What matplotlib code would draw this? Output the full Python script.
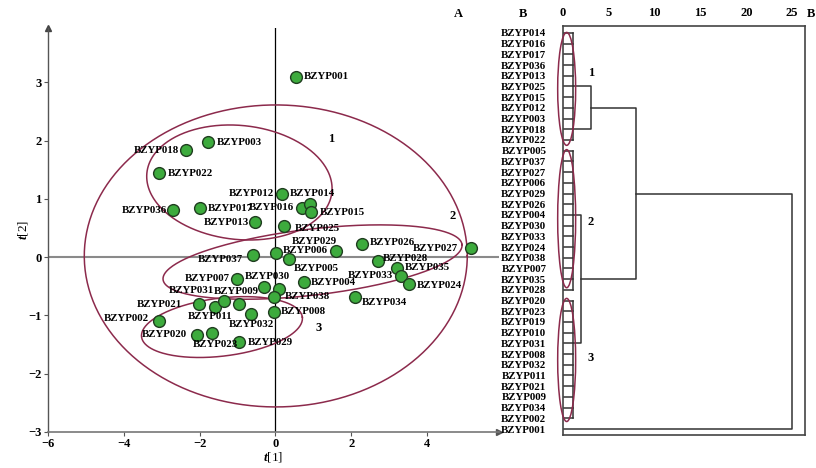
import numpy as np
import matplotlib
matplotlib.use("Agg")
import matplotlib.pyplot as plt
from matplotlib.patches import Ellipse

plt.rcParams['font.family'] = ['Liberation Serif', 'DejaVu Serif']
plt.rcParams['font.weight'] = 'bold'
plt.rcParams['mathtext.fontset'] = 'custom'
plt.rcParams['mathtext.it'] = 'Liberation Serif:italic:bold'
plt.rcParams['mathtext.rm'] = 'Liberation Serif:bold'
plt.rcParams['axes.unicode_minus'] = True

# ---- score plot data (t[1], t[2]) ----
names = ['BZYP001', 'BZYP003', 'BZYP018', 'BZYP022', 'BZYP036', 'BZYP017',
         'BZYP016', 'BZYP014', 'BZYP015', 'BZYP012', 'BZYP013', 'BZYP025',
         'BZYP029', 'BZYP006', 'BZYP005', 'BZYP037', 'BZYP026', 'BZYP027',
         'BZYP028', 'BZYP035', 'BZYP033', 'BZYP024', 'BZYP004', 'BZYP034',
         'BZYP007', 'BZYP030', '', 'BZYP038', 'BZYP021', 'BZYP011',
         'BZYP031', 'BZYP009', 'BZYP032', 'BZYP008', 'BZYP002', 'BZYP020',
         'BZYP023', 'BZYP029']
t1 = [0.55, -1.77, -2.35, -3.06, -2.69, -1.98,
      0.69, 0.90, 0.95, 0.18, -0.53, 0.24,
      0.01, 1.59, 0.35, -0.59, 2.29, 5.17,
      2.71, 3.20, 3.32, 3.53, 0.76, 2.10,
      -1.00, -0.31, 0.09, -0.03, -2.01, -1.59,
      -1.36, -0.97, -0.64, -0.04, -3.06, -2.06,
      -1.67, -0.95]
t2 = [3.09, 1.97, 1.83, 1.44, 0.80, 0.84,
      0.85, 0.91, 0.77, 1.09, 0.60, 0.53,
      0.07, 0.10, -0.03, 0.03, 0.23, 0.15,
      -0.07, -0.18, -0.32, -0.46, -0.42, -0.68,
      -0.37, -0.52, -0.55, -0.68, -0.81, -0.85,
      -0.76, -0.81, -0.97, -0.94, -1.10, -1.33,
      -1.30, -1.46]

# label placement (pixel offset x, y, alignment) - layout only
label_pos = [(8, 0, 'left'), (8, 0, 'left'), (-7, 0, 'right'), (8, 0, 'left'),
             (-6, 0, 'right'), (7, 0, 'left'), (-7, 0, 'right'), (-20, 11, 'left'),
             (8, 0, 'left'), (-8, 0, 'right'), (-6, 0, 'right'), (10, -2, 'left'),
             (16, 12, 'left'), (-8, 1, 'right'), (5, -10, 'left'), (-10, -4, 'right'),
             (8, 1, 'left'), (-13, 0, 'right'), (5, 3, 'left'), (8, 0, 'left'),
             (-8, 0, 'right'), (8, -2, 'left'), (7, -1, 'left'), (7, -6, 'left'),
             (-8, 0, 'right'), (-19, 11, 'left'), (0, 0, 'left'), (11, 0, 'left'),
             (-17, 0, 'right'), (-5, -10, 'center'), (-10, 11, 'right'), (-2, 13, 'center'),
             (0, -11, 'center'), (7, 0, 'left'), (-11, 3, 'right'), (-10, 0, 'right'),
             (-19, -12, 'left'), (8, 0, 'left')]

# ---- dendrogram data ----
leaves = ['BZYP014', 'BZYP016', 'BZYP017', 'BZYP036', 'BZYP013', 'BZYP025',
          'BZYP015', 'BZYP012', 'BZYP003', 'BZYP018', 'BZYP022', 'BZYP005',
          'BZYP037', 'BZYP027', 'BZYP006', 'BZYP029', 'BZYP026', 'BZYP004',
          'BZYP030', 'BZYP033', 'BZYP024', 'BZYP038', 'BZYP007', 'BZYP035',
          'BZYP028', 'BZYP020', 'BZYP023', 'BZYP019', 'BZYP010', 'BZYP031',
          'BZYP008', 'BZYP032', 'BZYP011', 'BZYP021', 'BZYP009', 'BZYP034',
          'BZYP002', 'BZYP001']
cluster_sizes = [11, 14, 12]
first_merge = 1.06
# (leaf a, leaf b, height a, height b, merge height)
links = [(5, 9, 1.06, 1.06, 3.0),
         (17, 29, 1.06, 1.06, 2.0),
         (7, 23, 3.0, 2.0, 8.0),
         (15, 37, 8.0, 0.0, 25.0)]

red = '#8c2a4c'
green = '#3dab3d'
fs = 7.8

fig = plt.figure(figsize=(8.16, 4.68), dpi=100)

# ================= score plot =================
xmin, xmax = -6, 5.9
ymin, ymax = -3, 3.93
ax = fig.add_axes([48 / 816, 1 - 432 / 468, 451 / 816, 404 / 468])
ax.set_xlim(xmin, xmax)
ax.set_ylim(ymin, ymax)
sx = 451 / (xmax - xmin)
sy = 404 / (ymax - ymin)

for s in ['top', 'right']:
    ax.spines[s].set_visible(False)
ax.spines['left'].set_color('#555555')
ax.spines['bottom'].set_color('#777777')
ax.spines['left'].set_linewidth(1.0)
ax.spines['bottom'].set_linewidth(1.2)
ax.plot(0, 1, '^', color='#444444', ms=4, transform=ax.transAxes, clip_on=False)
ax.plot(1, 0, '>', color='#555555', ms=4, transform=ax.transAxes, clip_on=False)

ax.axhline(0, color='#8a8a8a', lw=1.5, zorder=1)
ax.axvline(0, color='black', lw=0.9, zorder=1)

ax.set_xticks([-6, -4, -2, 0, 2, 4])
ax.set_yticks([-3, -2, -1, 0, 1, 2, 3])
ax.tick_params(direction='out', length=3, width=0.8, color='#555555',
               labelsize=9, pad=1.5)
ax.set_xlabel(r'$t$[1]', fontsize=9.5, labelpad=0)
ax.set_ylabel(r'$t$[2]', fontsize=9.5, labelpad=-1.5)


def ring(cx, cy, a, b, ang):
    t = np.linspace(0, 2 * np.pi, 300)
    u = a * np.cos(t)
    v = b * np.sin(t)
    th = np.radians(ang)
    x = cx + (u * np.cos(th) - v * np.sin(th)) / sx
    y = cy + (u * np.sin(th) + v * np.cos(th)) / sy
    ax.plot(x, y, color=red, lw=1.1, zorder=2)


ring(0.01, 0.02, 191.5, 151, 0)
ring(-0.95, 1.28, 93, 57, -6)
ring(0.98, -0.085, 150.5, 33, 6.7)
ring(-1.41, -1.20, 81, 29, 7)

ax.scatter(t1, t2, s=72, color=green, edgecolor='#1f3d1f', linewidth=1.0, zorder=4)
for n, x, y, (dx, dy, ha) in zip(names, t1, t2, label_pos):
    if n:
        ax.annotate(n, (x, y), xytext=(dx, dy), textcoords='offset pixels',
                    ha=ha, va='center', fontsize=fs, zorder=5)

ax.text(1.48, 2.02, '1', fontsize=9, ha='center', va='center')
ax.text(4.67, 0.70, '2', fontsize=9, ha='center', va='center')
ax.text(1.13, -1.21, '3', fontsize=9, ha='center', va='center')
fig.text(458 / 816, 1 - 14 / 468, 'A', fontsize=9, ha='center', va='center')

# ================= dendrogram =================
dx0, dx1 = 0, 26.4
bx = fig.add_axes([563 / 816, 1 - 435 / 468, 242 / 816, 409 / 468])
bx.set_xlim(dx0, dx1)
bx.set_ylim(37.56, -0.65)
for s in bx.spines.values():
    s.set_color('#444444')
    s.set_linewidth(1.2)
bx.xaxis.tick_top()
bx.set_xticks([0, 5, 10, 15, 20, 25])
bx.tick_params(axis='x', length=0, labelsize=9, pad=5)
bx.set_yticks(range(len(leaves)))
bx.set_yticklabels(leaves)
bx.tick_params(axis='y', length=0, labelsize=fs, pad=12)

lc = '#333333'
start = 0
for size in cluster_sizes:
    idx = np.arange(start, start + size)
    for i in idx:
        bx.plot([0, first_merge], [i, i], color=lc, lw=1.1)
    bx.plot([first_merge, first_merge], [idx[0], idx[-1]], color=lc, lw=1.1)
    start += size

for a, b, ha_, hb_, hm in links:
    bx.plot([ha_, hm, hm, hb_], [a, a, b, b], color=lc, lw=1.1)

spans = [(-0.05, 10.5), (10.9, 23.8), (24.8, 36.3)]
for k, (y0, y1) in enumerate(spans):
    bx.add_patch(Ellipse((0.4, (y0 + y1) / 2), 1.96, y1 - y0, fill=False,
                         edgecolor=red, lw=1.1, clip_on=False, zorder=3))
    bx.text(3.05, [3.74, 17.7, 30.4][k], str(k + 1), fontsize=9,
            ha='center', va='center')

fig.text(523 / 816, 1 - 14 / 468, 'B', fontsize=9, ha='center', va='center')
fig.text(811 / 816, 1 - 14 / 468, 'B', fontsize=9, ha='center', va='center')

fig.savefig('out.png', dpi=100)
